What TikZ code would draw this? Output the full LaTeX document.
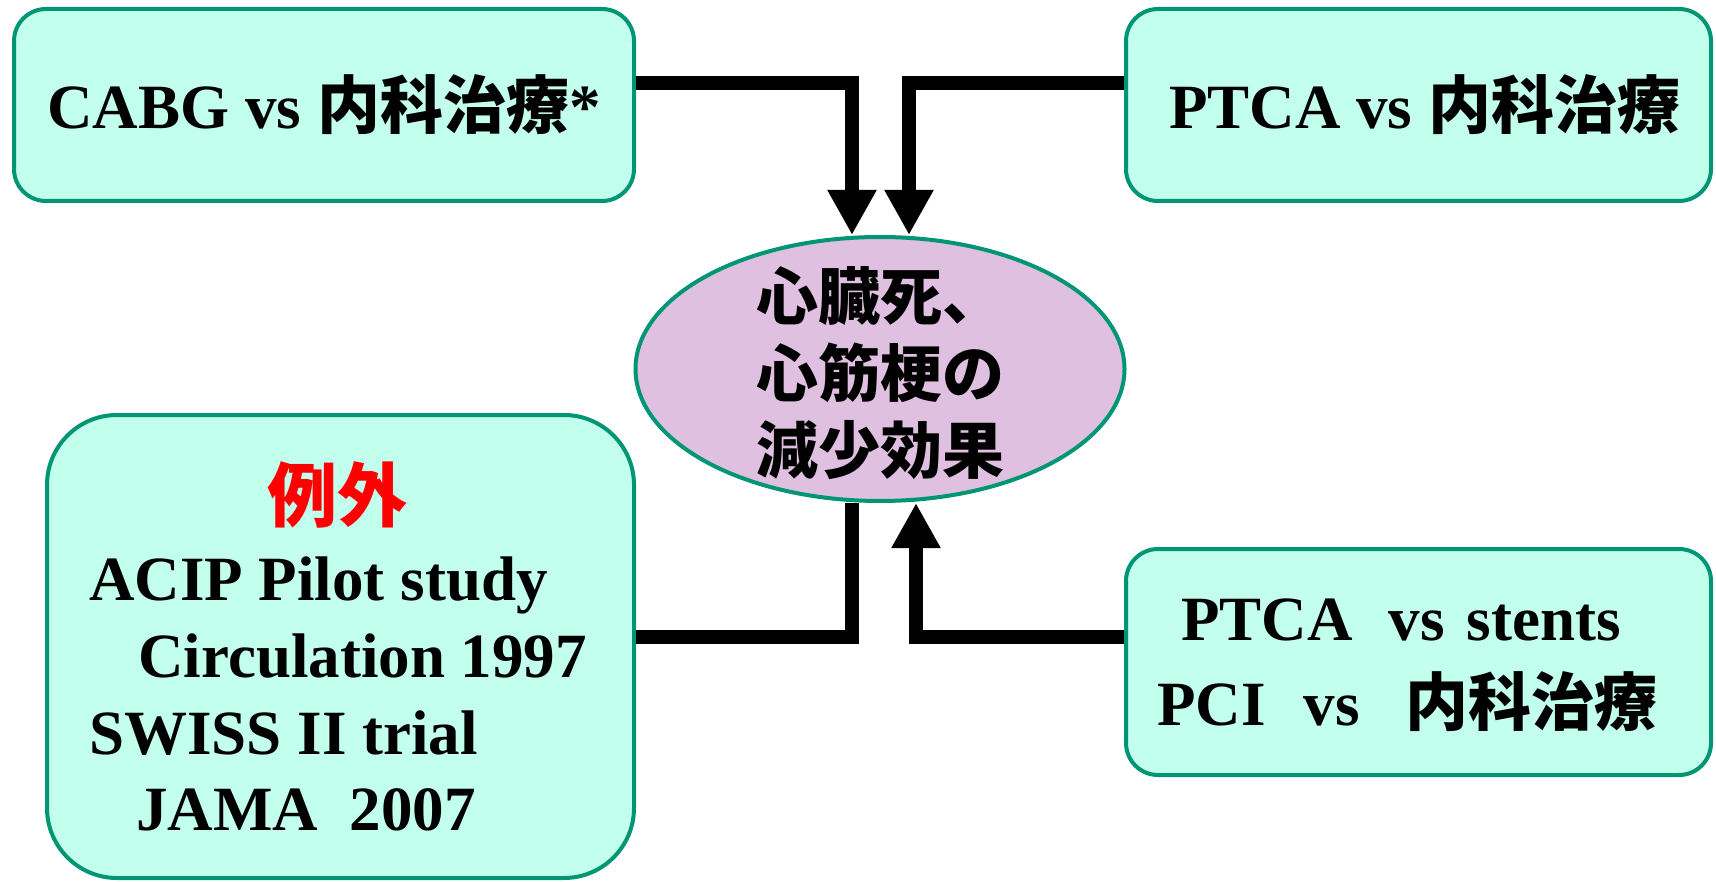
\documentclass[tikz,border=0pt]{standalone}
\usepackage{fontspec}
\setmainfont{Liberation Serif}
\newfontfamily\jp{Noto Sans CJK JP}
\usetikzlibrary{arrows.meta,shapes.geometric}
\definecolor{mint}{RGB}{194,255,236}
\definecolor{boxline}{RGB}{0,150,115}
\definecolor{lilac}{RGB}{224,192,224}
\begin{document}
\begin{tikzpicture}[x=1pt,y=-1pt,
  box/.style={draw=boxline, fill=mint, line width=4pt, rounded corners=32pt, inner sep=0pt},
  lat/.style={font=\bfseries\fontsize{63}{76}\selectfont, inner sep=0pt},
  jpt/.style={font=\jp\bfseries\fontsize{62}{77}\selectfont, inner sep=0pt},
  conn/.style={line width=14pt, draw=black},
  tip/.style={-{Triangle[length=45pt,width=46pt]}}
]
\useasboundingbox (0,0) rectangle (1716,882);
% boxes
\node[box, lat, minimum width=620pt, minimum height=192pt] (tl) at (324,105) {CABG vs {\jp 内科治療}*};
\node[box, lat, minimum width=585pt, minimum height=192pt] (tr) at (1418.5,105) {\hspace{12pt}PTCA vs {\jp 内科治療}};
\node[ellipse, draw=boxline, fill=lilac, line width=4pt, minimum width=489pt, minimum height=264pt, inner sep=0pt] (ell) at (880,369) {};
\node[jpt, align=center] (elltxt) at (880,373) {心臓死、\\心筋梗の\\減少効果};
\node[box, rounded corners=70pt, minimum width=587pt, minimum height=463pt] (bl) at (340.5,646.5) {};
\node[box, minimum width=585pt, minimum height=226pt] (br) at (1418.5,662) {};
% bottom-left texts
\node[red, font=\jp\bfseries\fontsize{70}{80}\selectfont, inner sep=0pt] (rei) at (337,495) {例外};
\node[lat, anchor=base west] (l1) at (89,600) {ACIP Pilot study};
\node[lat, anchor=base west] (l2) at (138,677) {Circulation 1997};
\node[lat, anchor=base west] (l3) at (89,754) {SWISS II trial};
\node[lat, anchor=base west] (l4) at (136,830) {JAMA\hspace{16pt} 2007};
% bottom-right texts
\node[lat, anchor=base west] (r1) at (1181,640) {PTCA\hspace{36pt}vs\hspace{22pt}stents};
\node[lat, anchor=base west] (r2) at (1157,725) {PCI\hspace{38pt}vs\hspace{46pt}{\jp 内科治療}};
% connectors
\draw[conn, tip] ([yshift=22pt]tl.east) -| ([xshift=-28pt]ell.north);
\draw[conn, tip] ([yshift=22pt]tr.west) -| ([xshift=29pt]ell.north);
\draw[conn] ([yshift=10pt]bl.east) -| ([xshift=-28pt]ell.south);
\draw[conn, tip] ([yshift=25pt]br.west) -| ([xshift=36pt]ell.south);
\end{tikzpicture}
\end{document}
